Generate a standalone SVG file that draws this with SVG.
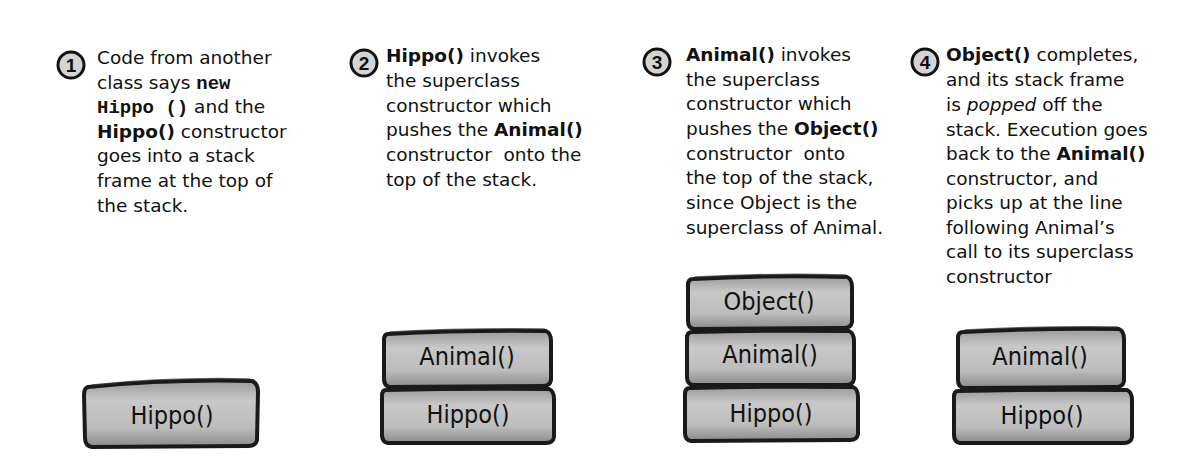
<svg xmlns="http://www.w3.org/2000/svg" width="1178" height="476" viewBox="0 0 1178 476">
<defs>
<linearGradient id="g" x1="0" y1="0" x2="0" y2="1">
<stop offset="0" stop-color="#9a9a9a"/>
<stop offset="0.3" stop-color="#c8c8c8"/>
<stop offset="0.7" stop-color="#bdbdbd"/>
<stop offset="1" stop-color="#8a8a8a"/>
</linearGradient>
</defs>
<style>
.t{font-family:"DejaVu Sans","Noto Sans",sans-serif;font-size:18.5px;fill:#111;white-space:pre}
.b{font-weight:bold}
.m{font-family:"Liberation Mono",monospace;font-weight:bold;font-size:19px}
.num{font-family:"Liberation Sans",Arial,sans-serif;font-weight:bold;font-size:19px;fill:#111;text-anchor:middle}
.c{fill:#d4d4d4;stroke:#111;stroke-width:3}
.blk{fill:url(#g);stroke:#1a1a1a;stroke-width:4;stroke-linejoin:round}
.blk2{fill:none;stroke:#333;stroke-width:1.5;opacity:0.7}
.lbl{font-family:"DejaVu Sans Condensed","DejaVu Sans",sans-serif;font-size:25px;fill:#111;text-anchor:middle}
</style>

<g id="step1">
<circle class="c" cx="71" cy="65" r="13"/>
<text class="num" x="71" y="72">1</text>
<text class="t" x="97" y="64">Code from another</text>
<text class="t" x="97" y="89">class says <tspan class="m">new</tspan></text>
<text class="t" x="97" y="113"><tspan class="m">Hippo ()</tspan> and the</text>
<text class="t" x="97" y="138"><tspan class="b">Hippo()</tspan> constructor</text>
<text class="t" x="97" y="162">goes into a stack</text>
<text class="t" x="97" y="187">frame at the top of</text>
<text class="t" x="97" y="212">the stack.</text>
</g>

<g id="step2">
<circle class="c" cx="364" cy="63" r="13"/>
<text class="num" x="364" y="70">2</text>
<text class="t" x="386" y="62"><tspan class="b">Hippo()</tspan> invokes</text>
<text class="t" x="386" y="87">the superclass</text>
<text class="t" x="386" y="112">constructor which</text>
<text class="t" x="386" y="136">pushes the <tspan class="b">Animal()</tspan></text>
<text class="t" x="386" y="161">constructor  onto the</text>
<text class="t" x="386" y="186">top of the stack.</text>
</g>

<g id="step3">
<circle class="c" cx="657" cy="62" r="13"/>
<text class="num" x="657" y="69">3</text>
<text class="t" x="686" y="61"><tspan class="b">Animal()</tspan> invokes</text>
<text class="t" x="686" y="86">the superclass</text>
<text class="t" x="686" y="110">constructor which</text>
<text class="t" x="686" y="135">pushes the <tspan class="b">Object()</tspan></text>
<text class="t" x="686" y="160">constructor  onto</text>
<text class="t" x="686" y="184">the top of the stack,</text>
<text class="t" x="686" y="209">since Object is the</text>
<text class="t" x="686" y="234">superclass of Animal.</text>
</g>

<g id="step4">
<circle class="c" cx="925" cy="62" r="13"/>
<text class="num" x="925" y="69">4</text>
<text class="t" x="946" y="61"><tspan class="b">Object()</tspan> completes,</text>
<text class="t" x="946" y="86">and its stack frame</text>
<text class="t" x="946" y="111">is <tspan font-style="italic">popped</tspan> off the</text>
<text class="t" x="946" y="136">stack. Execution goes</text>
<text class="t" x="946" y="160">back to the <tspan class="b">Animal()</tspan></text>
<text class="t" x="946" y="185">constructor, and</text>
<text class="t" x="946" y="209">picks up at the line</text>
<text class="t" x="946" y="234">following Animal’s</text>
<text class="t" x="946" y="258">call to its superclass</text>
<text class="t" x="946" y="283">constructor</text>
</g>

<g id="stack1">
<g id="s1-hippo">
<path class="blk" d="M88,387 Q170,379 252,381 Q258,383 258,392 L257,440 Q256,446 248,446 L92,447 Q85,446 85,438 L84,395 Q84,388 88,387 Z"/>
<path class="blk2" d="M92,385 Q170,377 250,379"/>
<text class="lbl" x="172" y="424">Hippo()</text>
</g>
</g>

<g id="stack2">
<g id="s2-animal">
<path class="blk" d="M388,334 Q465,330 546,331 Q551,333 551,341 L551,380 Q550,386 543,386 L390,387 Q384,386 384,379 L384,340 Q384,334 388,334 Z"/>
<path class="blk2" d="M390,332 Q465,328 545,329"/>
<text class="lbl" x="467" y="365">Animal()</text>
</g>
<g id="s2-hippo">
<path class="blk" d="M386,390 Q465,388 549,389 Q554,391 554,399 L554,437 Q553,443 546,443 L388,443 Q382,442 382,435 L382,396 Q382,390 386,390 Z"/>
<text class="lbl" x="468" y="423">Hippo()</text>
</g>
</g>

<g id="stack3">
<g id="s3-object">
<path class="blk" d="M693,279 Q770,275 847,277 Q852,279 852,287 L852,322 Q851,328 844,328 L694,329 Q688,328 688,321 L688,285 Q688,279 693,279 Z"/>
<path class="blk2" d="M695,277 Q770,273 846,275"/>
<text class="lbl" x="769" y="310">Object()</text>
</g>
<g id="s3-animal">
<path class="blk" d="M692,332 Q770,330 849,331 Q854,333 854,341 L854,379 Q853,385 846,385 L693,385 Q687,384 687,377 L687,338 Q687,332 692,332 Z"/>
<text class="lbl" x="770" y="363">Animal()</text>
</g>
<g id="s3-hippo">
<path class="blk" d="M690,388 Q770,386 853,387 Q858,389 858,397 L858,434 Q857,440 850,440 L691,441 Q685,440 685,433 L685,394 Q685,388 690,388 Z"/>
<text class="lbl" x="771" y="422">Hippo()</text>
</g>
</g>

<g id="stack4">
<g id="s4-animal">
<path class="blk" d="M963,332 Q1040,328 1119,329 Q1124,331 1124,339 L1124,381 Q1123,387 1116,387 L964,388 Q958,387 958,380 L958,338 Q958,332 963,332 Z"/>
<path class="blk2" d="M965,330 Q1040,326 1118,327"/>
<text class="lbl" x="1040" y="365">Animal()</text>
</g>
<g id="s4-hippo">
<path class="blk" d="M958,391 Q1040,389 1127,390 Q1132,392 1132,400 L1132,437 Q1131,443 1124,443 L960,443 Q954,442 954,435 L954,397 Q954,391 958,391 Z"/>
<text class="lbl" x="1042" y="424">Hippo()</text>
</g>
</g>
</svg>
